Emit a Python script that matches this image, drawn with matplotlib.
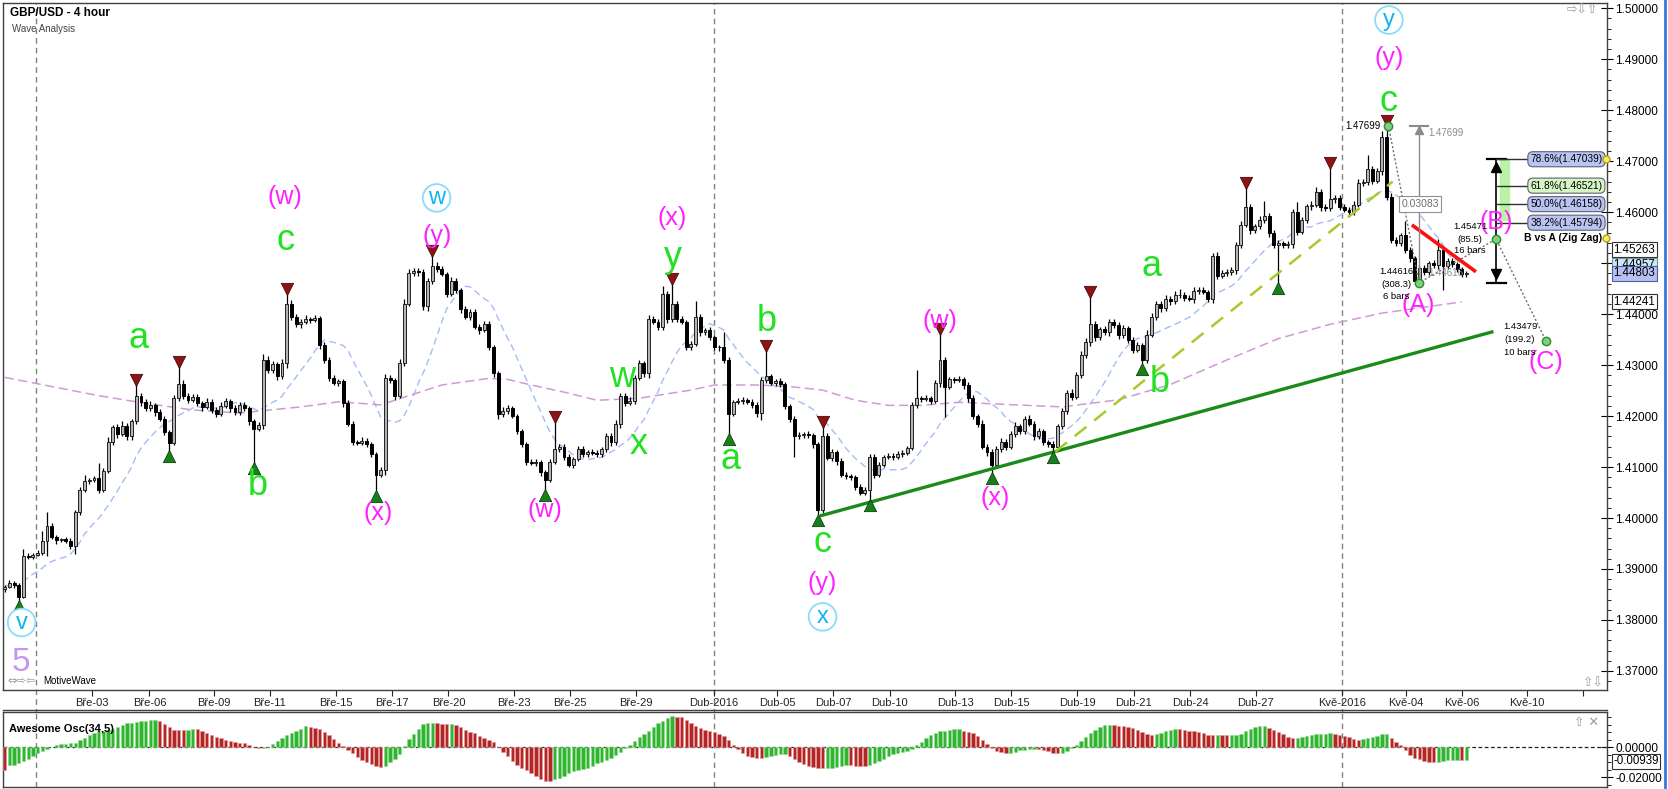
import matplotlib
matplotlib.use("Agg")
import matplotlib.pyplot as plt
import numpy as np
import pandas as pd
from matplotlib.lines import Line2D
from matplotlib.patches import Rectangle
from matplotlib.transforms import blended_transform_factory

plt.rcParams['font.family'] = ['Liberation Sans', 'DejaVu Sans']

# ---- price data (GBP/USD 4h, values in pips: 1.4000 -> 14000) ----
first_open = 13860
closes = [
    13865, 13873, 13868, 13846, 13926, 13924, 13928, 13931, 13955, 13985,
    13962, 13956, 13958, 13955, 13945, 14012, 14055, 14072, 14074, 14078,
    14055, 14092, 14150, 14178, 14165, 14180, 14160, 14190, 14240, 14228,
    14215, 14222, 14208, 14195, 14168, 14148, 14235, 14262, 14240, 14232,
    14238, 14225, 14218, 14228, 14212, 14205, 14220, 14230, 14215, 14208,
    14222, 14215, 14190, 14175, 14182, 14310, 14290, 14302, 14278, 14305,
    14420, 14395, 14380, 14385, 14390, 14388, 14392, 14340, 14310, 14275,
    14265, 14268, 14225, 14185, 14150, 14148, 14152, 14145, 14125, 14085,
    14095, 14275, 14270, 14240, 14305, 14420, 14480, 14485, 14482, 14415,
    14465, 14495, 14488, 14478, 14440, 14465, 14447, 14410, 14395, 14405,
    14375, 14368, 14380, 14335, 14285, 14205, 14210, 14215, 14200, 14170,
    14145, 14110, 14108, 14110, 14090, 14075, 14110, 14135, 14140, 14120,
    14105, 14115, 14135, 14125, 14130, 14128, 14125, 14135, 14160, 14150,
    14185, 14240, 14225, 14230, 14275, 14305, 14285, 14390, 14385, 14375,
    14440, 14390, 14420, 14390, 14385, 14336, 14342, 14395, 14365, 14368,
    14355, 14336, 14335, 14310, 14205, 14228, 14230, 14232, 14228, 14222,
    14207, 14270, 14278, 14265, 14268, 14262, 14220, 14195, 14160, 14163,
    14165, 14162, 14145, 14015, 14160, 14118, 14130, 14112, 14085, 14082,
    14080, 14060, 14050, 14055, 14120, 14085, 14105, 14120, 14122, 14120,
    14125, 14128, 14138, 14222, 14235, 14233, 14235, 14230, 14265, 14310,
    14258, 14272, 14270, 14272, 14260, 14235, 14200, 14185, 14140, 14130,
    14105, 14135, 14150, 14140, 14165, 14180, 14170, 14195, 14185, 14160,
    14170, 14150, 14145, 14140, 14180, 14210, 14245, 14238, 14280, 14320,
    14345, 14380, 14355, 14370, 14365, 14385, 14378, 14360, 14372, 14350,
    14330, 14340, 14310, 14360, 14395, 14420, 14412, 14430, 14425, 14438,
    14438, 14432, 14430, 14445, 14448, 14444, 14430, 14515, 14475, 14480,
    14482, 14487, 14535, 14575, 14610, 14565, 14572, 14585, 14592, 14560,
    14535, 14540, 14535, 14538, 14600, 14562, 14585, 14612, 14615, 14640,
    14610, 14608, 14625, 14628, 14610, 14605, 14600, 14615, 14658, 14660,
    14685, 14662, 14680, 14748, 14630, 14545, 14540, 14555, 14525, 14510,
    14465, 14490, 14482, 14500, 14496, 14525, 14495, 14505, 14498, 14488,
    14478, 14480,
]
wick_up = [
    4, 6, 3, 5, 14, 5, 4, 6, 20, 27,
    5, 4, 3, 4, 6, 4, 6, 13, 4, 5,
    30, 6, 8, 5, 7, 10, 6, 4, 22, 6,
    5, 8, 4, 6, 5, 4, 6, 36, 8, 5,
    6, 5, 4, 8, 5, 6, 7, 5, 4, 6,
    5, 6, 4, 5, 6, 12, 8, 6, 5, 7,
    20, 7, 6, 5, 8, 5, 6, 4, 6, 5,
    6, 5, 4, 6, 5, 4, 6, 5, 4, 5,
    5, 8, 6, 5, 7, 10, 8, 6, 5, 6,
    6, 20, 8, 6, 5, 7, 6, 5, 6, 5,
    6, 5, 7, 6, 5, 4, 8, 6, 5, 4,
    5, 4, 6, 5, 4, 5, 6, 55, 6, 5,
    6, 5, 7, 6, 4, 5, 6, 5, 7, 6,
    8, 6, 5, 7, 6, 5, 4, 8, 6, 5,
    15, 6, 40, 5, 6, 4, 5, 30, 6, 5,
    6, 5, 4, 30, 5, 4, 6, 5, 4, 5,
    5, 6, 50, 5, 4, 6, 5, 4, 6, 5,
    4, 6, 5, 5, 20, 6, 5, 4, 6, 5,
    5, 4, 6, 5, 5, 6, 5, 4, 6, 5,
    6, 5, 4, 6, 55, 5, 6, 4, 5, 52,
    6, 5, 4, 6, 5, 7, 6, 5, 8, 6,
    5, 6, 7, 5, 6, 8, 5, 6, 7, 5,
    6, 5, 4, 6, 5, 6, 7, 8, 6, 7,
    8, 55, 6, 5, 7, 6, 5, 6, 7, 5,
    6, 5, 4, 8, 7, 6, 5, 8, 6, 7,
    12, 5, 6, 8, 5, 6, 4, 5, 6, 7,
    6, 5, 7, 8, 38, 6, 5, 7, 30, 6,
    6, 5, 4, 6, 7, 20, 6, 5, 6, 10,
    6, 7, 62, 5, 6, 7, 5, 6, 8, 6,
    28, 5, 6, 12, 22, 7, 6, 5, 27, 6,
    5, 6, 7, 5, 6, 22, 6, 5, 6, 5,
    5, 4,
]
wick_dn = [
    5, 3, 6, 10, 2, 4, 5, 3, 4, 30,
    4, 6, 3, 4, 5, 15, 6, 3, 5, 4,
    5, 4, 3, 6, 8, 5, 7, 6, 5, 8,
    6, 5, 7, 5, 6, 18, 4, 5, 6, 7,
    5, 6, 8, 4, 5, 6, 5, 4, 7, 5,
    6, 5, 7, 67, 5, 8, 6, 5, 7, 6,
    10, 6, 5, 7, 5, 6, 4, 8, 6, 7,
    5, 6, 8, 5, 6, 5, 4, 6, 5, 33,
    4, 10, 6, 8, 5, 6, 4, 5, 7, 6,
    8, 5, 6, 4, 7, 5, 6, 8, 5, 6,
    5, 6, 4, 5, 8, 10, 6, 5, 4, 6,
    6, 5, 4, 6, 8, 20, 5, 4, 6, 7,
    5, 6, 4, 5, 6, 4, 5, 6, 5, 8,
    6, 8, 5, 4, 7, 5, 8, 10, 5, 6,
    6, 8, 5, 6, 5, 7, 6, 5, 8, 6,
    5, 6, 7, 6, 40, 5, 4, 6, 5, 6,
    8, 15, 6, 5, 6, 5, 7, 6, 40, 5,
    6, 5, 7, 10, 6, 5, 6, 7, 5, 6,
    6, 5, 4, 5, 20, 6, 5, 4, 5, 6,
    5, 6, 4, 5, 6, 5, 4, 6, 5, 8,
    60, 5, 6, 4, 6, 7, 5, 6, 5, 8,
    17, 5, 6, 7, 5, 6, 5, 6, 5, 7,
    5, 6, 5, 12, 6, 5, 6, 7, 5, 6,
    6, 7, 8, 5, 6, 7, 5, 8, 6, 7,
    6, 5, 8, 6, 5, 6, 7, 5, 8, 6,
    6, 7, 5, 8, 6, 5, 7, 8, 6, 5,
    5, 6, 8, 6, 5, 7, 6, 5, 6, 8,
    5, 75, 6, 5, 8, 6, 5, 6, 7, 5,
    8, 6, 5, 7, 6, 5, 8, 6, 5, 7,
    6, 7, 5, 8, 6, 5, 7, 6, 5, 8,
    3, 6, 6, 6, 5, 7, 47, 6, 5, 6,
    6, 5,
]

# first oscillator bars (their 34-bar history lies before the visible window)
ao_head = [-0.0151, -0.0120, -0.0115, -0.0105, -0.0093, -0.0078, -0.0058, -0.0040,
           -0.0024, -0.0008, 0.0005, 0.0013, 0.0020, 0.0025, 0.0027, 0.0031,
           0.0047, 0.0063, 0.0084, 0.0095]

# slow moving average (purple): bar index / price
slow_ma_idx = [0, 10, 20, 30, 40, 50, 63, 71, 80, 84, 93, 103, 107, 112, 120, 126,
               135, 146, 151, 160, 167, 174, 181, 188, 195, 203, 215, 225, 237,
               248, 260, 271, 282, 293, 310]
slow_ma_val = [1.4276, 1.4258, 1.4240, 1.4225, 1.4212, 1.4206, 1.4218, 1.4228,
               1.4222, 1.4234, 1.4261, 1.4274, 1.4272, 1.4261, 1.4245, 1.4231,
               1.4235, 1.4251, 1.4261, 1.4261, 1.4258, 1.4251, 1.4231, 1.4221,
               1.4221, 1.4227, 1.4222, 1.4218, 1.4232, 1.4262, 1.4310, 1.4352,
               1.4380, 1.4402, 1.4424]

date_labels = ["Bře-03", "Bře-06", "Bře-09", "Bře-11", "Bře-15", "Bře-17", "Bře-20",
               "Bře-23", "Bře-25", "Bře-29", "Dub-2016", "Dub-05", "Dub-07", "Dub-10",
               "Dub-13", "Dub-15", "Dub-19", "Dub-21", "Dub-24", "Dub-27", "Kvě-2016",
               "Kvě-04", "Kvě-06", "Kvě-10", ""]
date_pos = [18.6, 30.8, 44.5, 56.4, 70.4, 82.3, 94.4, 108.4, 120.3, 134.3, 150.9,
            164.3, 176.3, 188.3, 202.2, 214.2, 228.2, 240.2, 252.2, 266.2, 284.5,
            298.1, 310.1, 323.9, 335.8]
month_starts = [6.66, 150.9, 284.5]

peak_bars = [28, 37, 60, 91, 117, 142, 162, 174, 199, 231, 264, 282, 294]
trough_bars = [3, 35, 53, 79, 115, 154, 173, 184, 210, 223, 242, 271]

green_labels = [("a", 28.4, 1.4353), ("b", 53.8, 1.4063), ("c", 59.7, 1.4545),
                ("w", 131.4, 1.4276), ("x", 134.8, 1.4144), ("y", 142.1, 1.4511),
                ("a", 154.4, 1.4114), ("b", 162.1, 1.4385), ("c", 174.0, 1.3952),
                ("a", 244.0, 1.4493), ("b", 245.8, 1.4265), ("c", 294.5, 1.4818)]
pink_labels = [("(w)", 59.7, 1.4630), ("(x)", 79.4, 1.4010), ("(y)", 91.9, 1.4553),
               ("(w)", 114.9, 1.4015), ("(x)", 142.1, 1.4589), ("(y)", 174.0, 1.3873),
               ("(w)", 199.0, 1.4387), ("(x)", 210.7, 1.4040), ("(y)", 294.5, 1.4902),
               ("(A)", 300.7, 1.4418), ("(B)", 317.3, 1.4581), ("(C)", 327.9, 1.4307)]
circle_labels = [("v", 3.6, 1.3795), ("w", 91.9, 1.4628), ("x", 174.0, 1.3806),
                 ("y", 294.5, 1.4977)]

# projection points C-A-B-C
proj_idx = [294.4, 300.9, 317.3, 327.9]
proj_val = [1.47699, 1.44616, 1.45471, 1.43479]

fib_levels = [1.47039, 1.46521, 1.46158, 1.45794]
fib_names = ["78.6%(1.47039)", "61.8%(1.46521)", "50.0%(1.46158)", "38.2%(1.45794)"]

# ---- derived OHLC ----
c = np.array(closes) / 1e4
o = np.array([first_open] + closes[:-1]) / 1e4
hi = np.maximum(o, c) + np.array(wick_up) / 1e4
lo = np.minimum(o, c) - np.array(wick_dn) / 1e4
x = np.arange(len(c))

W, H = 1668, 789


def rect(x0, y0, x1, y1):
    return [x0 / W, 1 - y1 / H, (x1 - x0) / W, (y1 - y0) / H]


fig = plt.figure(figsize=(W / 100, H / 100), dpi=100)
ax = fig.add_axes(rect(3, 3, 1607, 690))
ao_ax = fig.add_axes(rect(3, 712, 1607, 787))

XMIN, XMAX = -0.36, 340.9
ax.set_xlim(XMIN, XMAX)
ax.set_ylim(1.36626, 1.50104)

# month separators
for m in month_starts:
    ax.axvline(m, ymin=-0.035, ymax=1, color='#808080', lw=1, ls=(0, (4, 3)),
               clip_on=False, zorder=1)
    ao_ax.axvline(m, color='#808080', lw=1, ls=(0, (4, 3)), zorder=1)

# moving averages
fast_ma = pd.Series(c).rolling(14, min_periods=1).mean()
ax.plot(x, fast_ma, color='#a3bdf5', lw=1.0, ls=(0, (5, 3)), zorder=2)
ax.plot(slow_ma_idx, slow_ma_val, color='#cf9ad6', lw=1.1, ls=(0, (6, 3)), zorder=2)

# trend lines
ax.plot([173.8, 316.4], [1.4005, 1.4365], color='#1b8a1b', lw=2.4, zorder=5)
ax.plot([223.5, 295.3], [1.4130, 1.4660], color='#a9c92a', lw=1.8,
        ls=(0, (6, 4)), zorder=5)
ax.plot([299.7, 312.7], [1.45729, 1.44852], color='#ff1010', lw=2.6, zorder=6)

# candles
ax.vlines(x, lo, hi, color='black', lw=0.9, zorder=3)
up = c >= o
ax.bar(x[up], np.maximum((c - o)[up], 0.00003), bottom=o[up], width=0.62,
       color='#b4b4b4', edgecolor='#202020', lw=0.7, zorder=4)
ax.bar(x[~up], (o - c)[~up], bottom=c[~up], width=0.62,
       color='black', edgecolor='black', lw=0.7, zorder=4)

# swing markers
ax.scatter(peak_bars, hi[peak_bars] + 0.0009, marker='v', s=80, color='#8c1414',
           edgecolor='#3a0000', lw=0.5, zorder=7)
ax.scatter(trough_bars, lo[trough_bars] - 0.0009, marker='^', s=80, color='#17801a',
           edgecolor='#003300', lw=0.5, zorder=7)

# wave labels
for t, xi, yi in green_labels:
    ax.text(xi, yi, t, color='#22e022', fontsize=26, ha='center', va='center', zorder=8)
for t, xi, yi in pink_labels:
    ax.text(xi, yi, t, color='#ff22ff', fontsize=18, ha='center', va='center', zorder=8)
for t, xi, yi in circle_labels:
    ax.text(xi, yi, t, color='#12b4ee', fontsize=17, ha='center', va='center', zorder=8,
            bbox=dict(boxstyle='circle,pad=0.12', fc='white', ec='#8adcf7', lw=1.3))
ax.text(3.5, 1.3717, "5", color='#c495f5', fontsize=24, ha='center', va='center')

# projection C-A-B-C
ax.plot(proj_idx, proj_val, color='#707070', lw=1, ls=(0, (1.5, 1.5)), zorder=6)
ax.plot(proj_idx, proj_val, 'o', ms=6, mfc='#7ed07e', mec='#2e8b2e', mew=1, zorder=9)
ax.text(292.8, 1.4770, "1.47699", fontsize=7, ha='right', va='center', zorder=9)
for dy, t in zip([0.0022, -0.0003, -0.0027], ["1.44616", "(308.3)", "6 bars"]):
    ax.text(296.0, 1.44616 + dy, t, fontsize=6.8, ha='center', va='center', zorder=9)
for dy, t in zip([0.0024, 0.0000, -0.0023], ["1.45471", "(85.5)", "16 bars"]):
    ax.text(311.8, 1.45471 + dy, t, fontsize=6.8, ha='center', va='center', zorder=9)
for dy, t in zip([0.0027, 0.0002, -0.0023], ["1.43479", "(199.2)", "10 bars"]):
    ax.text(322.4, 1.43479 + dy, t, fontsize=6.8, ha='center', va='center', zorder=9)
ax.text(302.9, 1.4481, "1.44616", fontsize=7, color='#8a8a8a', ha='left', va='center',
        zorder=9)

# measure tool
ax.plot([300.9, 300.9], [1.44616, 1.47699], color='#8a8a8a', lw=1, zorder=6)
ax.plot([299.0, 302.8], [1.47699, 1.47699], color='#8a8a8a', lw=1.5, zorder=6)
ax.plot([300.9], [1.4761], marker='^', ms=6, color='#8a8a8a', zorder=6)
ax.text(302.8, 1.4755, "1.47699", fontsize=7, color='#8a8a8a', ha='left', va='center')
ax.text(301.1, 1.4616, "0.03083", fontsize=7.5, color='#707070', ha='center',
        va='center', zorder=9,
        bbox=dict(boxstyle='square,pad=0.25', fc='white', ec='#909090', lw=0.8))

# fibonacci retracement
ax.add_patch(Rectangle((318.1, 1.4585), 2.0, 1.4704 - 1.4585, color='#baf2a8', zorder=5))
ax.plot([317.3, 317.3], [1.44616, 1.47039], color='black', lw=1.2, zorder=6)
for yv in [1.44616, 1.47039]:
    ax.plot([315.3, 319.4], [yv, yv], color='black', lw=1.6, zorder=6)
ax.plot([317.3], [1.4688], marker='^', ms=7, color='black', zorder=6)
ax.plot([317.3], [1.4478], marker='v', ms=7, color='black', zorder=6)
for lvl, name in zip(fib_levels, fib_names):
    ax.plot([317.3, 324.2], [lvl, lvl], color='#303030', lw=1, zorder=6)
    fc = '#d5f5c6' if name.startswith("61.8") else '#b9c4f2'
    ax.text(324.6, lvl, name, fontsize=7.3, ha='left', va='center', zorder=9,
            bbox=dict(boxstyle='round,pad=0.25,rounding_size=0.5', fc=fc, ec='#606070',
                      lw=0.8))
ax.text(339.8, 1.45488, "B vs A (Zig Zag)", fontsize=7.5, fontweight='bold',
        ha='right', va='center', zorder=9)
ax.plot([340.7, 340.7], [1.47039, 1.45488], 'o', ms=5, mfc='#f6ee5a', mec='#b0a020',
        zorder=10, clip_on=False)

# axes styling (main)
ax.yaxis.tick_right()
ax.set_yticks(np.arange(1.37, 1.5001, 0.01))
ax.set_yticklabels([f"{v:.5f}" for v in np.arange(1.37, 1.5001, 0.01)])
ax.set_yticks(np.arange(1.368, 1.5001, 0.002), minor=True)
ax.tick_params(axis='y', which='major', direction='inout', length=8, width=0.8,
               labelsize=8.5, pad=2)
ax.tick_params(axis='y', which='minor', direction='out', length=3, width=0.6)
ax.set_xticks(date_pos)
ax.set_xticklabels(date_labels)
ax.tick_params(axis='x', direction='out', length=4, width=0.8, labelsize=8, pad=2,
               colors='#222222')
for s in ax.spines.values():
    s.set_color('#404040')
    s.set_linewidth(1)

# price flags on the right axis
tr = blended_transform_factory(ax.transAxes, ax.transData)
for val, fc, ec in [(1.45263, 'white', '#303030'), (1.44957, '#c9e9f9', '#8090a0'),
                    (1.44803, '#b6c0f2', '#5060a0'), (1.44241, 'white', '#303030')]:
    ax.text(1.004, val, f"{val:.5f}", transform=tr, fontsize=8.3, ha='left',
            va='center', clip_on=False, zorder=11,
            bbox=dict(boxstyle='square,pad=0.12', fc=fc, ec=ec, lw=0.8))

# awesome oscillator
med = pd.Series((hi + lo) / 2)
ao = (med.rolling(5, min_periods=1).mean() - med.rolling(34, min_periods=1).mean()).values
ao[:len(ao_head)] = ao_head
rising = np.r_[False, ao[1:] >= ao[:-1]]
ao_ax.bar(x[rising], ao[rising], width=0.72, color='#2fb52f', edgecolor='#8fdc8f',
          lw=0.4, zorder=3)
ao_ax.bar(x[~rising], ao[~rising], width=0.72, color='#b32626', edgecolor='#e39a9a',
          lw=0.4, zorder=3)
ao_ax.axhline(0, color='#202020', lw=0.9, ls=(0, (3, 2)), zorder=2)
ao_ax.set_xlim(XMIN, XMAX)
ao_ax.set_ylim(-0.0263, 0.0234)
ao_ax.set_xticks([])
ao_ax.yaxis.tick_right()
ao_ax.set_yticks([0.0, -0.02])
ao_ax.set_yticklabels(["0.00000", "-0.02000"])
ao_ax.set_yticks(np.arange(-0.025, 0.0231, 0.005), minor=True)
ao_ax.tick_params(axis='y', which='major', direction='inout', length=8, width=0.8,
                  labelsize=8.5, pad=2)
ao_ax.tick_params(axis='y', which='minor', direction='out', length=3, width=0.6)
for s in ao_ax.spines.values():
    s.set_color('#404040')
    s.set_linewidth(1)
tr2 = blended_transform_factory(ao_ax.transAxes, ao_ax.transData)
ao_ax.text(1.004, -0.00939, "-0.00939", transform=tr2, fontsize=8.3, ha='left',
           va='center', clip_on=False, zorder=11,
           bbox=dict(boxstyle='square,pad=0.12', fc='white', ec='#303030', lw=0.8))
ao_ax.text(0.004, 0.78, "Awesome Osc(34,5)", transform=ao_ax.transAxes, fontsize=8,
           fontweight='bold', ha='left', va='center')
ao_ax.text(0.987, 0.86, "⇧ ✕", transform=ao_ax.transAxes, fontsize=9,
           color='#9a9a9a', ha='center', va='center', family=['DejaVu Sans'])

# header and small chrome
fig.text(10 / W, 1 - 13 / H, "GBP/USD - 4 hour", fontsize=8.5, fontweight='bold',
         ha='left', va='center')
fig.text(12 / W, 1 - 29 / H, "Wave Analysis", fontsize=7, color='#444444',
         ha='left', va='center')
fig.text(1582 / W, 1 - 10 / H, "⇨⇩⇧", fontsize=9, color='#9a9a9a', ha='center',
         va='center', family=['DejaVu Sans'])
fig.text(1593 / W, 1 - 683 / H, "⇧⇩", fontsize=9, color='#9a9a9a', ha='center',
         va='center', family=['DejaVu Sans'])
fig.text(7 / W, 1 - 681 / H, "⇔⇨⇦", fontsize=8, color='#9a9a9a', ha='left',
         va='center', family=['DejaVu Sans'])
fig.text(43 / W, 1 - 681 / H, "MotiveWave", fontsize=7, ha='left', va='center')
fig.add_artist(Line2D([3 / W, 1607 / W], [1 - 710 / H, 1 - 710 / H], color='#404040',
                      lw=1))
fig.add_artist(Line2D([1665 / W, 1665 / W], [0, 1], color='#3a78d8', lw=2))

fig.savefig("out.png", dpi=100)
